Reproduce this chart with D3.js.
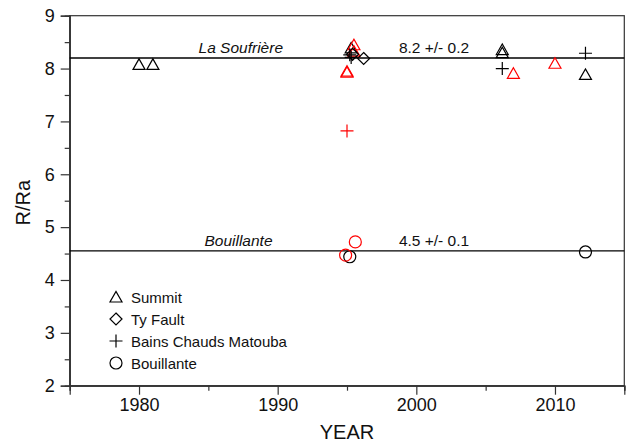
<!DOCTYPE html>
<html><head><meta charset="utf-8">
<script src="https://cdn.jsdelivr.net/npm/d3@7"></script>
<style>body{margin:0;background:#fff}svg{display:block;font-family:"Liberation Sans",Arial,sans-serif}</style>
</head><body><svg id="c" width="626" height="443"></svg>
<script>
const xTicks = [1980, 1990, 2000, 2010];
const yTicks = [2, 3, 4, 5, 6, 7, 8, 9];
const refValues = [8.2, 4.55];
const refNames = ["La Soufrière", "Bouillante"];
const refLabels = ["8.2 +/- 0.2", "4.5 +/- 0.1"];
const legendNames = ["Summit", "Ty Fault", "Bains Chauds Matouba", "Bouillante"];
const legendShapes = ["triangle", "diamond", "plus", "circle"];

const summitBlackYears = [1980, 1981, 1995.3, 2006.2, 2006.2, 2012.2];
const summitBlackValues = [8.08, 8.08, 8.39, 8.36, 8.30, 7.89];
const summitRedYears = [1995.0, 1995.0, 1995.5, 1995.5, 2007.0, 2010.0];
const summitRedValues = [7.93, 7.95, 8.45, 8.33, 7.91, 8.10];
const tyBlackYears = [1995.4, 1996.2];
const tyBlackValues = [8.27, 8.19];
const bainsBlackYears = [1995.2, 1995.3, 2006.2, 2012.2];
const bainsBlackValues = [8.26, 8.21, 8.00, 8.29];
const bainsRedYears = [1995.0];
const bainsRedValues = [6.82];
const bouBlackYears = [1995.2, 2012.2];
const bouBlackValues = [4.44, 4.53];
const bouRedYears = [1994.9, 1995.6];
const bouRedValues = [4.47, 4.72];

const series = [
  {shape: "triangle", color: "#000", years: summitBlackYears, values: summitBlackValues},
  {shape: "triangle", color: "#f00", years: summitRedYears, values: summitRedValues},
  {shape: "diamond", color: "#000", years: tyBlackYears, values: tyBlackValues},
  {shape: "plus", color: "#000", years: bainsBlackYears, values: bainsBlackValues},
  {shape: "plus", color: "#f00", years: bainsRedYears, values: bainsRedValues},
  {shape: "circle", color: "#000", years: bouBlackYears, values: bouBlackValues},
  {shape: "circle", color: "#f00", years: bouRedYears, values: bouRedValues}
];

const L = 69.7, R = 624.3, T = 15.7, B = 385.7;
const x = d3.scaleLinear().domain([1975, 2015]).range([L, R]);
const y = d3.scaleLinear().domain([2, 9]).range([B, T]);
const svg = d3.select("#c");

function shapePath(s) {
  if (s === "triangle") return "M-6,5L6,5L0,-5.5Z";
  if (s === "diamond") return "M0,-6L6,0L0,6L-6,0Z";
  if (s === "plus") return "M-6.5,0L6.5,0M0,-6.5L0,6.5";
  return "M6,0A6,6 0 1,1 -6,0A6,6 0 1,1 6,0Z";
}

// frame
svg.append("rect").attr("x", L).attr("y", T).attr("width", R - L).attr("height", B - T)
  .attr("fill", "none").attr("stroke", "#333").attr("stroke-width", 1.2);

// axes
const xAxis = d3.axisBottom(x).tickValues(xTicks).tickFormat(d3.format("d")).tickSize(9).tickPadding(4);
svg.append("g").attr("transform", `translate(0,${B})`).call(xAxis);
const xMinor = d3.axisBottom(x).tickValues([1975, 1985, 1995, 2005, 2015]).tickSize(5).tickFormat("");
svg.append("g").attr("transform", `translate(0,${B})`).call(xMinor);
const yAxis = d3.axisLeft(y).tickValues(yTicks).tickFormat(d3.format("d")).tickSize(9).tickPadding(6);
svg.append("g").attr("transform", `translate(${L},0)`).call(yAxis);
const yMinor = d3.axisLeft(y).tickValues([2.5, 3.5, 4.5, 5.5, 6.5, 7.5, 8.5]).tickSize(5).tickFormat("");
svg.append("g").attr("transform", `translate(${L},0)`).call(yMinor);
svg.selectAll(".domain").attr("stroke", "#333").attr("stroke-width", 1.2);
svg.selectAll(".tick line").attr("stroke", "#333").attr("stroke-width", 1.2);
svg.selectAll(".tick text").attr("font-size", 18).attr("fill", "#111").attr("font-family", '"Liberation Sans",Arial,sans-serif');

svg.append("text").attr("x", (L + R) / 2).attr("y", 439).attr("text-anchor", "middle")
  .attr("font-size", 20).attr("fill", "#111").text("YEAR");
svg.append("text").attr("transform", `translate(30,${(T + B) / 2 + 2}) rotate(-90)`).attr("text-anchor", "middle")
  .attr("font-size", 20).attr("fill", "#111").text("R/Ra");

// reference lines
const refX = [240.8, 238.5];
refValues.forEach((v, i) => {
  svg.append("line").attr("x1", L).attr("x2", R).attr("y1", y(v)).attr("y2", y(v))
    .attr("stroke", "#000").attr("stroke-width", 1.3);
  svg.append("text").attr("x", refX[i]).attr("y", y(v) - 5).attr("text-anchor", "middle")
    .attr("font-size", 15.5).attr("font-style", "italic").attr("fill", "#111").text(refNames[i]);
  svg.append("text").attr("x", 434).attr("y", y(v) - 5).attr("text-anchor", "middle")
    .attr("font-size", 15.5).attr("fill", "#111").text(refLabels[i]);
});

// points
series.forEach(s => {
  svg.append("g").selectAll("path").data(s.years.map((yr, i) => [yr, s.values[i]])).join("path")
    .attr("transform", d => `translate(${x(d[0])},${y(d[1])})`)
    .attr("d", shapePath(s.shape)).attr("fill", "none")
    .attr("stroke", s.color).attr("stroke-width", 1.2);
});

// legend
const lg = svg.append("g");
legendNames.forEach((n, i) => {
  const cy = 297 + i * 22;
  lg.append("path").attr("transform", `translate(116,${cy})`).attr("d", shapePath(legendShapes[i]))
    .attr("fill", "none").attr("stroke", "#000").attr("stroke-width", 1.2);
  lg.append("text").attr("x", 131).attr("y", cy + 5.5).attr("font-size", 15).attr("fill", "#111").text(n);
});
</script></body></html>
